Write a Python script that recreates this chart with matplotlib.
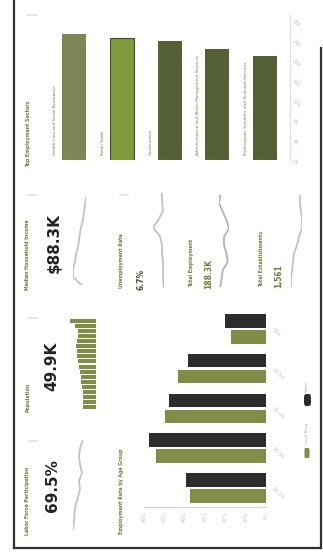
import matplotlib
matplotlib.use("Agg")
import matplotlib.pyplot as plt
from matplotlib.patches import Rectangle, FancyBboxPatch
import numpy as np

# dashboard data
sectors = ["Health Care and Social Assistance", "Retail Trade", "Construction",
           "Administrative and Waste Management Services",
           "Professional, Scientific and Technical Services"]
sector_jobs = [25.2, 24.4, 23.8, 22.2, 20.8]  # thousands
sector_ticks = [0, 4, 8, 12, 16, 20, 24, 28]

age_groups = ["16-24", "25-34", "35-44", "45-54", "55+"]
local_rate = [37.4, 54.2, 49.8, 43.3, 17.2]
state_rate = [39.4, 57.6, 47.8, 38.4, 20.2]
rate_ticks = [0, 10, 20, 30, 40, 50, 60]

income_trend = [89.9, 93.1, 93.1, 92.3, 91.9, 91.1, 90.7, 90.3, 89.5, 89.1, 88.7, 88.3]
unemp_trend = [6.46, 6.58, 6.58, 6.58, 6.7, 6.7, 6.94, 7.78, 7.06, 6.58, 6.7, 6.7]
employ_trend = [188.3, 187.8, 187.3, 185.3, 185.8, 186.8, 186.8, 184.8, 185.8, 187.3, 188.8, 188.3]
estab_trend = [1615, 1615, 1609, 1603, 1597, 1579, 1567, 1549, 1549, 1555, 1561, 1561]
lfp_trend = [71.5, 71.3, 71.2, 71.0, 70.5, 70.1, 70.3, 69.7, 70.1, 70.3, 70.1, 69.5]
pop_bins = [13, 13, 13, 13, 14, 15, 15, 16, 17, 18, 19, 19, 20, 19, 18, 18, 21, 26]

GREEN = "#6f7d3c"
OLIVE = "#7d8656"
LIME = "#7e9a3b"
DARK_OLIVE = "#566036"
BAR_GREEN = "#808d47"
BAR_DARK = "#2d2d2d"
SPARK = "#c2c2c2"
TICK = "#c4c4c4"

W, H = 323, 556
fig = plt.figure(figsize=(W / 100, H / 100), dpi=100)
fig.patch.set_facecolor("white")


def px_axes(x0, y0, x1, y1):
    # axes from pixel box (origin top-left)
    ax = fig.add_axes([x0 / W, 1 - y1 / H, (x1 - x0) / W, (y1 - y0) / H])
    ax.set_facecolor("none")
    return ax


def vtext(x, y, s, **kw):
    # vertical text, starting at y and reading upwards
    kw.setdefault("rotation", 90)
    kw.setdefault("ha", "center")
    kw.setdefault("va", "bottom")
    fig.text(x / W, 1 - y / H, s, **kw)


def title(x, y, s):
    vtext(x, y, s, fontsize=3.4, fontweight="bold", color=GREEN)


def ghost(x, y):
    fig.add_artist(Rectangle(((x - 5) / W, 1 - (y + 1) / H), 10 / W, 2 / H,
                             transform=fig.transFigure, color="#e6e6e6", lw=0))


def sparkline(vals, box, color=SPARK):
    ax = px_axes(*box)
    ax.plot(vals, np.arange(len(vals)), color=color, lw=1.3)
    ax.margins(0)
    ax.invert_xaxis()
    ax.axis("off")


# frame
frame = dict(transform=fig.transFigure, color="#333333", lw=1.6)
fig.add_artist(plt.Line2D([14 / W, 14 / W], [1, 1 - 548 / H], **frame))
fig.add_artist(plt.Line2D([14 / W, 320.5 / W], [1 - 548 / H, 1 - 548 / H], **frame))
fig.add_artist(plt.Line2D([320.5 / W, 320.5 / W], [1 - 48 / H, 1 - 548 / H], **frame))

# top employment sectors
ax = px_axes(55, 15, 290, 160)
colors = [OLIVE, LIME, DARK_OLIVE, DARK_OLIVE, DARK_OLIVE]
edges = ["none", "#45483a", "none", "none", "none"]
pos = np.arange(len(sectors))
ax.bar(pos, sector_jobs, width=0.5, color=colors, edgecolor=edges, linewidth=0.8)
ax.set_xlim(-0.4, 4.52)
ax.set_ylim(0, 29)
for i, name in enumerate(sectors):
    ax.text(i - 0.4, 1.0, name, rotation=90, ha="center", va="bottom",
            fontsize=3, color=GREEN, clip_on=False)
ax.axhline(0, color="#d8d8d8", lw=0.8, ls=(0, (3, 2)))
for s in ["top", "left", "bottom"]:
    ax.spines[s].set_visible(False)
ax.spines["right"].set_color("#dddddd")
ax.spines["right"].set_linewidth(0.8)
ax.set_xticks([])
ax.yaxis.tick_right()
ax.set_yticks(sector_ticks)
ax.set_yticklabels([f"{t}K" for t in sector_ticks], rotation=-45, ha="left",
                   va="center", rotation_mode="anchor", fontsize=3.5, color=TICK)
ax.tick_params(axis="y", length=0, pad=2)
title(29, 167, "Top Employment Sectors")
ghost(32, 15)

# KPI band
title(28, 290, "Median Household Income")
vtext(54, 273, "$88.3K", fontsize=11, fontweight="bold", color="#222222")
sparkline(income_trend, (73, 197, 86, 285))
ghost(32, 195)

title(122, 288, "Unemployment Rate")
vtext(141, 290, "6.7%", fontsize=5.5, fontweight="bold", color="#4a5230")
sparkline(unemp_trend, (153, 193, 164, 288))
ghost(124, 195)

title(192, 287, "Total Employment")
vtext(209, 289, "188.3K", fontsize=5.5, fontweight="bold", color=GREEN)
sparkline(employ_trend, (219, 195, 229, 287), color="#b2b2b2")

title(262, 287, "Total Establishments")
vtext(279, 288, "1,561", fontsize=5.5, fontweight="bold", color=GREEN)
sparkline(estab_trend, (291, 195, 302, 287))

# population card
title(28, 412, "Population")
vtext(52, 391, "49.9K", fontsize=11, fontweight="bold", color="#222222")
ax = px_axes(70, 318, 96, 410)
ax.barh(np.arange(len(pop_bins)), pop_bins, height=0.8, color=BAR_GREEN)
ax.set_xlim(26, 0)
ax.set_ylim(-0.5, len(pop_bins) - 0.5)
ax.axis("off")
ghost(33, 318)

# labor force participation card
title(28, 535, "Labor Force Participation")
vtext(53, 512, "69.5%", fontsize=11, fontweight="bold", color="#222222")
sparkline(lfp_trend, (73, 440, 83, 530))
ghost(33, 441)

# employment rate by age group
ax = px_axes(144, 305, 266, 507)
k = np.arange(len(age_groups))
ax.barh(k - 0.2, local_rate, height=0.34, color=BAR_GREEN)
ax.barh(k + 0.2, state_rate, height=0.34, color=BAR_DARK)
ax.set_xlim(60, 0)
ax.set_ylim(-0.48, 4.6)
for s in ["top", "left", "right"]:
    ax.spines[s].set_visible(False)
ax.spines["bottom"].set_color("#d4d4d4")
ax.spines["bottom"].set_linewidth(0.8)
ax.spines["bottom"].set_linestyle((0, (2, 1)))
ax.set_xticks(rate_ticks)
ax.set_xticklabels([f"{t}%" for t in rate_ticks], rotation=90, fontsize=3.5, color=TICK)
ax.tick_params(axis="x", length=0, pad=3)
ax.yaxis.tick_right()
ax.set_yticks(k)
ax.set_yticklabels(age_groups, rotation=-45, ha="left", va="center",
                   rotation_mode="anchor", fontsize=3.5, color=TICK)
ax.tick_params(axis="y", length=0, pad=5)
title(121, 534, "Employment Rate by Age Group")

# legend
fig.add_artist(FancyBboxPatch((304.5 / W, 1 - 458 / H), 5 / W, 10 / H,
                              boxstyle="round,pad=0,rounding_size=0.003",
                              transform=fig.transFigure, color=BAR_GREEN, lw=0))
vtext(307, 445, "Local Area", fontsize=3.2, color="#b0b0b0")
fig.add_artist(FancyBboxPatch((304 / W, 1 - 406 / H), 7 / W, 12 / H,
                              boxstyle="round,pad=0,rounding_size=0.006",
                              transform=fig.transFigure, color=BAR_DARK, lw=0))
vtext(307, 392, "State", fontsize=3.2, color="#b0b0b0")

fig.savefig("out.png", dpi=100, facecolor="white")
